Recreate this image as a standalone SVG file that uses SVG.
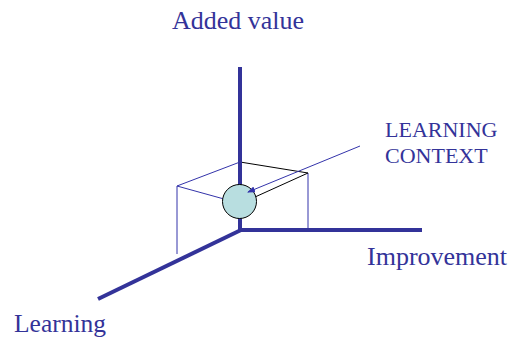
<svg xmlns="http://www.w3.org/2000/svg" width="512" height="337" viewBox="0 0 512 337">
<style>
.lbl{font-family:"Liberation Serif","Times New Roman",serif;fill:#333399}
.axis{stroke:#333399;stroke-width:4;fill:none}
.thin{stroke:#3333aa;stroke-width:1;fill:none}
.blk{stroke:#000;stroke-width:1;fill:none}
</style>
<defs>
<marker id="ah" markerWidth="8" markerHeight="6" refX="7" refY="3" orient="auto" markerUnits="userSpaceOnUse">
<path d="M0,0 L8,3 L0,6 Z" fill="#3333aa"/>
</marker>
</defs>
<rect width="512" height="337" fill="#fff"/>
<g id="connectors">
<line class="thin" x1="177" y1="186" x2="177" y2="254"/>
<line class="thin" x1="240" y1="162" x2="177" y2="186"/>
<line class="thin" x1="177" y1="186" x2="224" y2="199"/>
<line class="blk" x1="240" y1="162" x2="308" y2="173"/>
<line class="thin" x1="308" y1="173" x2="308" y2="230"/>
<line class="blk" x1="308" y1="173" x2="255" y2="197"/>
<line class="axis" x1="240" y1="67" x2="240" y2="232"/>
<line class="axis" x1="238" y1="230" x2="422" y2="230"/>
<line class="axis" x1="241" y1="230" x2="98" y2="299"/>
</g>
<g id="context-node">
<circle cx="239.5" cy="201.5" r="17" fill="#b8dee0" stroke="#000" stroke-width="1"/>
</g>
<g id="context-pointer">
<line class="thin" x1="360" y1="146" x2="248" y2="192" marker-end="url(#ah)"/>
</g>
<g id="label-added-value"><text class="lbl" x="172" y="29" font-size="26">Added value</text></g>
<g id="label-context"><text class="lbl" x="385" y="137" font-size="22">LEARNING</text><text class="lbl" x="385" y="163" font-size="22">CONTEXT</text></g>
<g id="label-improvement"><text class="lbl" x="367" y="265" font-size="26">Improvement</text></g>
<g id="label-learning"><text class="lbl" x="14" y="332" font-size="25.5">Learning</text></g>
</svg>
